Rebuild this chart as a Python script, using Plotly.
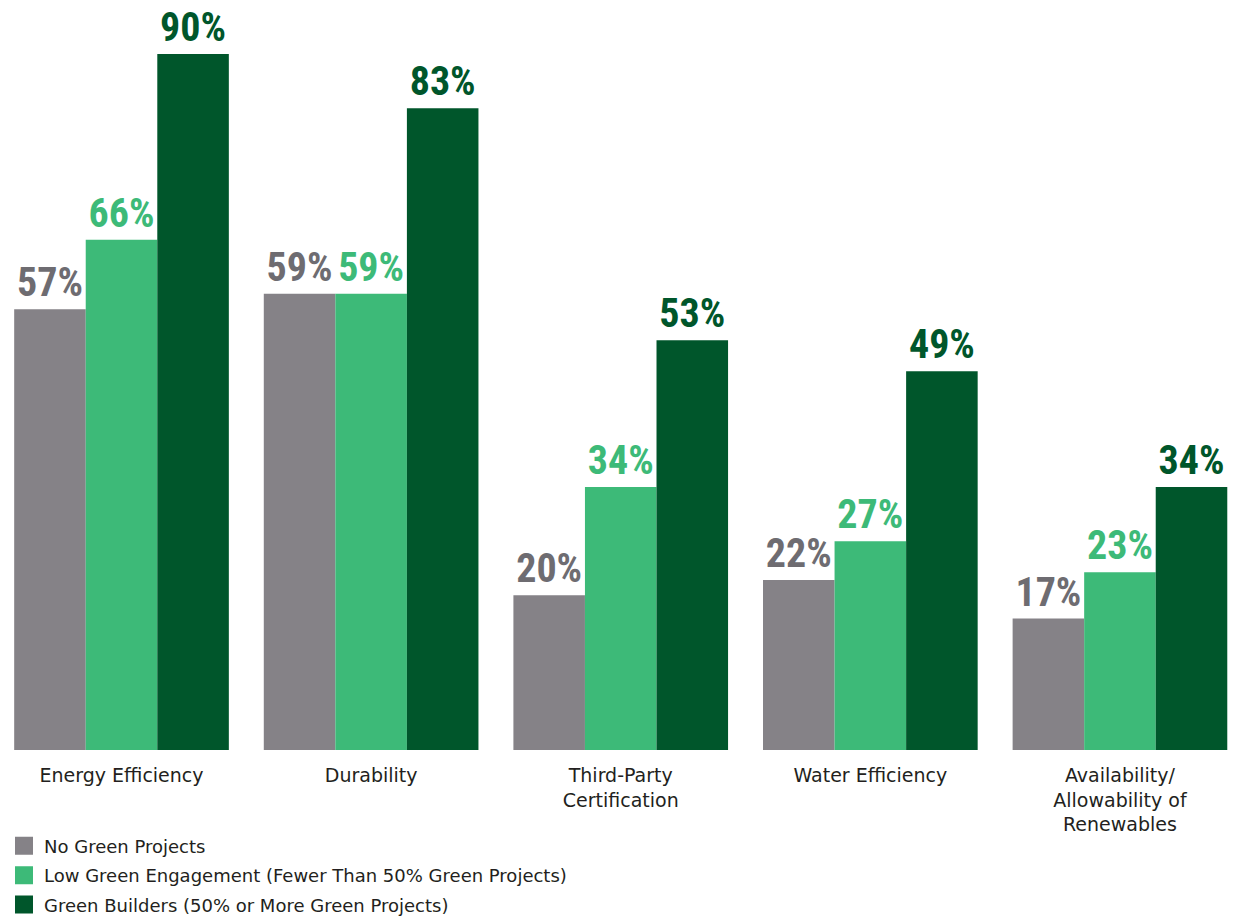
import plotly.graph_objects as go

categories = ["Energy Efficiency", "Durability", "Third-Party<br>Certification",
              "Water Efficiency", "Availability/<br>Allowability of<br>Renewables"]
series_names = ["No Green Projects",
                "Low Green Engagement (Fewer Than 50% Green Projects)",
                "Green Builders (50% or More Green Projects)"]
no_green = [57, 59, 20, 22, 17]
low_green = [66, 59, 34, 27, 23]
green_builders = [90, 83, 53, 49, 34]

bar_colors = ["#858287", "#3dba78", "#00562b"]
label_colors = ["#6e6c71", "#3dba78", "#00562b"]
text_font = "DejaVu Sans, sans-serif"

fig = go.Figure()
for i, (name, vals, bc, lc) in enumerate(zip(series_names, [no_green, low_green, green_builders],
                                             bar_colors, label_colors)):
    fig.add_trace(go.Bar(
        x=categories, y=vals, name=name, showlegend=False, legendgroup=f"g{i}",
        marker=dict(color=bc, line=dict(width=0)),
        text=[f"{v}%" for v in vals], textposition="outside",
        textfont=dict(family="Roboto Condensed, Roboto, sans-serif", size=40, color=lc, weight="bold"),
        constraintext="none", cliponaxis=False,
    ))
    # legend entry (square swatch)
    fig.add_trace(go.Scatter(
        x=[None], y=[None], mode="markers", name=name, legendgroup=f"g{i}",
        marker=dict(symbol="square", size=16, color=bc, line=dict(width=2, color=bc)),
    ))

fig.update_layout(
    width=1247, height=918,
    margin=dict(l=0, r=0, t=0, b=168, autoexpand=False),
    barmode="group", bargap=0.14, bargroupgap=0,
    plot_bgcolor="white", paper_bgcolor="white",
    showlegend=True,
    legend=dict(xref="container", yref="container", x=0.0032, y=0.0985,
                xanchor="left", yanchor="top",
                font=dict(family=text_font, size=18, color="#231f20"),
                bgcolor="rgba(0,0,0,0)", traceorder="grouped", itemsizing="trace",
                tracegroupgap=3),
    xaxis=dict(range=[-0.4868, 4.509], showgrid=False, showline=False, ticks="",
               automargin=False, ticklabelstandoff=12,
               tickfont=dict(family=text_font, size=19, color="#231f20")),
    yaxis=dict(range=[0, 97.0], visible=False, showgrid=False, zeroline=False, automargin=False),
)

fig.write_html("out.html")
